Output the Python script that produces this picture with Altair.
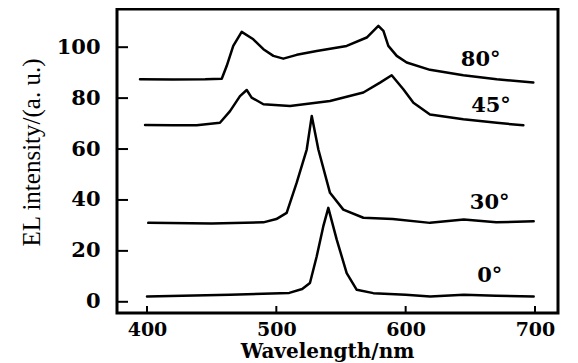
import altair as alt
import pandas as pd

# ---- data ----
wl_80 = [394.6, 420, 445, 457.8, 461.6, 466.7, 473.2, 482.2, 490, 497.7, 505.4, 515.8, 531.2, 554.4, 569.9, 578.9, 582.8, 586.6, 593.1, 600.8, 618.8, 644.6, 670.4, 698.7]
int_80 = [87.4, 87.3, 87.4, 87.6, 92.6, 100.5, 106.0, 103.1, 99.2, 96.6, 95.5, 97.0, 98.5, 100.5, 103.8, 108.4, 106.4, 100.5, 96.6, 94.0, 91.1, 89.0, 87.4, 86.1]

wl_45 = [398.5, 420, 438.4, 456.4, 464.2, 471.9, 477.1, 480.9, 490, 510.6, 541.5, 567.3, 580.2, 589.2, 598.2, 606, 618.8, 644.6, 670.4, 691]
int_45 = [69.4, 69.3, 69.3, 70.3, 74.9, 80.8, 83.2, 80.2, 77.6, 76.9, 78.9, 82.2, 86.1, 89.0, 83.5, 78.2, 73.6, 71.7, 70.3, 69.3]

wl_30 = [401, 450, 490, 500, 508, 515.7, 523.5, 527.4, 532.5, 541.5, 551.8, 567.3, 590, 618.8, 645, 670, 699]
int_30 = [31.0, 30.8, 31.2, 32.5, 34.9, 46.7, 59.8, 73.0, 59.8, 42.8, 36.2, 33.0, 32.5, 31.0, 32.3, 31.2, 31.6]

wl_0 = [400, 464, 510, 520, 526, 531.2, 536.3, 540.2, 546.7, 554.4, 562.2, 575, 600, 619, 645, 670, 699]
int_0 = [2.1, 2.8, 3.5, 5.0, 7.4, 17.8, 29.6, 36.9, 24.4, 11.3, 4.7, 3.4, 2.8, 2.1, 2.8, 2.4, 2.1]

label_text = ["80°", "45°", "30°", "0°"]
label_x = [658, 666, 665, 665]
label_y = [95, 77, 38.8, 10]

x_ticks = [400, 500, 600, 700]
y_ticks = [0, 20, 40, 60, 80, 100]

# ---- tables ----
rows = []
for name, xs_, ys_ in [("80", wl_80, int_80), ("45", wl_45, int_45),
                       ("30", wl_30, int_30), ("0", wl_0, int_0)]:
    for a, b in zip(xs_, ys_):
        rows.append({"series": name, "wl": a, "val": b})
df = pd.DataFrame(rows)
lab_df = pd.DataFrame({"t": label_text, "wl": label_x, "val": label_y})
xt_df = pd.DataFrame({"wl": x_ticks})
yt_df = pd.DataFrame({"val": y_ticks})

W, H = 441, 304
xs = alt.Scale(domain=[376.8, 717.8], nice=False, zero=False)
ys = alt.Scale(domain=[-4.4, 115], nice=False, zero=False)

bold_font = "DejaVu Serif"

x_axis = alt.Axis(
    values=x_ticks, ticks=False, domain=False, grid=False,
    title="Wavelength/nm", labelFont=bold_font, labelFontWeight="bold",
    labelFontSize=19, labelColor="black", labelPadding=7,
    titleFont=bold_font, titleFontWeight="bold", titleFontSize=20,
    titleColor="black", titleX=210, titleY=44, titleAlign="center",
    titleBaseline="alphabetic", format="d")
y_axis = alt.Axis(
    values=y_ticks, ticks=False, domain=False, grid=False,
    title="EL intensity/(a. u.)", labelFont=bold_font,
    labelFontWeight="bold", labelFontSize=21, labelColor="black",
    labelPadding=17, titleFont="Liberation Serif", titleFontWeight="normal",
    titleFontSize=25, titleColor="black", titleX=-73, titleY=143,
    titleAlign="center", titleBaseline="bottom", titleAngle=-90,
    format="d")

X = alt.X("wl:Q", scale=xs, axis=x_axis)
Y = alt.Y("val:Q", scale=ys, axis=y_axis)

lines = alt.Chart(df).mark_line(
    color="black", strokeWidth=2.5, strokeJoin="round", strokeCap="round"
).encode(x=X, y=Y, detail="series:N")

yticks = alt.Chart(yt_df).mark_rule(color="black", strokeWidth=2).encode(
    y=Y, x=alt.value(0), x2=alt.value(11),
)
xticks = alt.Chart(xt_df).mark_rule(color="black", strokeWidth=2).encode(
    x=X, y=alt.value(H), y2=alt.value(H - 7),
)

labels = alt.Chart(lab_df).mark_text(
    font=bold_font, fontWeight="bold", fontSize=21, color="black",
    align="center", baseline="middle"
).encode(x=X, y=Y, text="t:N")

chart = alt.layer(lines, yticks, xticks, labels).properties(
    width=W, height=H,
    autosize=alt.AutoSizeParams(type="none"),
    padding={"left": 109, "top": 1, "right": 12, "bottom": 50},
    background="white",
).configure_view(stroke="black", strokeWidth=3)

chart.save("out.html", embed_options={"renderer": "svg", "actions": False})
